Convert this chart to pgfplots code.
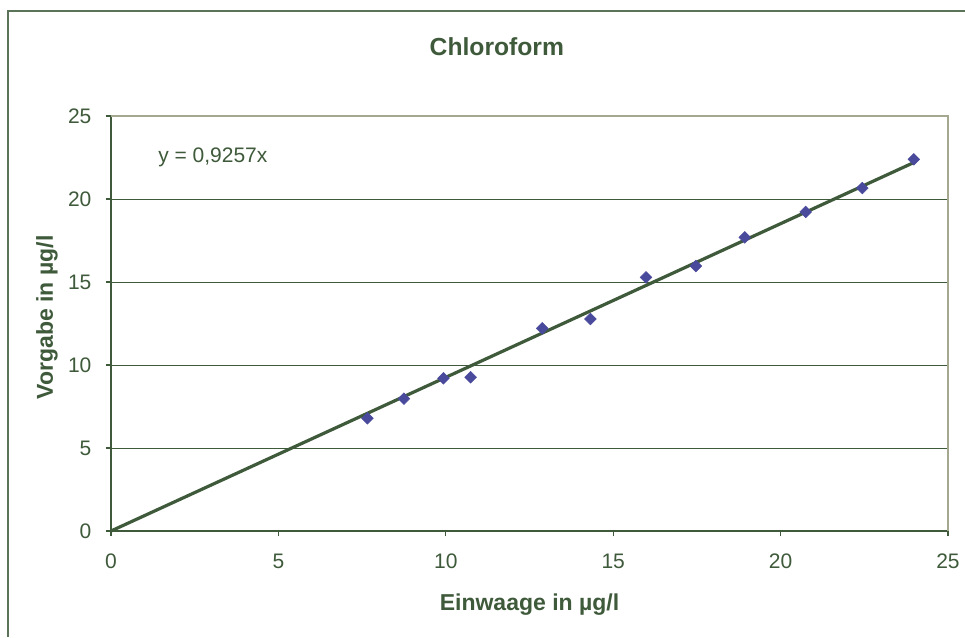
\documentclass[border=0pt]{standalone}
\usepackage{pgfplots}
\pgfplotsset{compat=1.18}
\usepackage{fontspec}
\setmainfont{Liberation Sans}
\definecolor{txt}{HTML}{3E5A3A}
\definecolor{axl}{HTML}{3E5A3A}
\definecolor{light}{HTML}{A4A88E}
\definecolor{mark}{HTML}{4A4A9C}
\begin{document}
\begin{tikzpicture}[x=0.75pt,y=0.75pt]
\useasboundingbox (0,0) rectangle (965,637);
\fill[white] (0,0) rectangle (965,637);
\draw[color=axl!85,line width=1.5pt] (8,0) -- (8,626) -- (965,626);
\begin{axis}[
  at={(83.25pt,79.5pt)}, anchor=south west,
  scale only axis, width=627.75pt, height=311.25pt,
  xmin=0, xmax=25, ymin=0, ymax=25,
  xtick={0,5,...,25}, ytick={0,5,...,25},
  axis x line*=bottom, axis y line*=left,
  axis line style={color=axl, line width=1pt},
  tick align=outside, xtick pos=bottom, ytick pos=left,
  major tick length=4pt,
  tick style={color=axl, line width=0.8pt},
  ymajorgrids, grid style={color=axl, line width=0.75pt},
  /pgf/number format/assume math mode=true,
  ticklabel style={font=\fontsize{15.75}{18}\selectfont, text=txt},
  xticklabel style={anchor=north, inner sep=0pt, yshift=-13pt},
  yticklabel style={anchor=east, inner sep=0pt, xshift=-10.5pt},
  title={Chloroform},
  title style={font=\bfseries\fontsize{18.5}{22}\selectfont, text=txt, at={(rel axis cs:0.461,1)}, anchor=base, yshift=39.75pt},
  xlabel={Einwaage in µg/l},
  xlabel style={font=\bfseries\fontsize{17.25}{20}\selectfont, text=txt, at={(rel axis cs:0.5,0)}, anchor=base, yshift=-59.25pt},
  ylabel={Vorgabe in µg/l},
  ylabel style={font=\bfseries\fontsize{17.25}{20}\selectfont, text=txt, at={(rel axis cs:0,0.515)}, anchor=base, yshift=43.5pt},
  clip=false,
]
\addplot[color=axl, line width=2.4pt, no marks] coordinates {(0,0) (23.98,22.198)};
\addplot[only marks, mark=square*, mark size=3.1pt, mark options={fill=mark, draw=mark, rotate=45}] coordinates {
(7.66,6.79) (8.75,7.97) (9.93,9.20) (10.74,9.26) (12.88,12.21) (14.32,12.77)
(15.98,15.28) (17.47,15.96) (18.93,17.69) (20.75,19.22) (22.44,20.66) (23.98,22.39)};
\draw[color=light, line width=1.5pt] (rel axis cs:0,1) -- (rel axis cs:1,1) -- (rel axis cs:1,0);
\node[anchor=base west, font=\fontsize{15.75}{18}\selectfont, text=txt, inner sep=0pt] at (axis cs:1.404,22.17) {y = 0,9257x};
\end{axis}
\end{tikzpicture}
\end{document}
